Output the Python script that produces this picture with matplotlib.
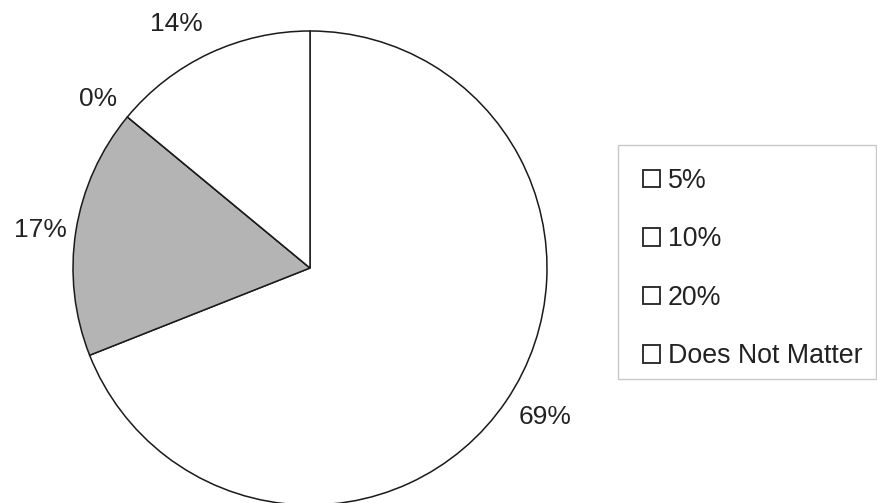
import matplotlib
matplotlib.use("Agg")
import matplotlib.pyplot as plt
from matplotlib.patches import Rectangle

plt.rcParams['font.family'] = ['Liberation Sans', 'DejaVu Sans']

categories = ["5%", "10%", "20%", "Does Not Matter"]
values = [69, 17, 0, 14]
pct_labels = ["69%", "17%", "0%", "14%"]
slice_colors = ["#ffffff", "#b4b4b4", "#ffffff", "#ffffff"]

W, H = 877, 503
fig = plt.figure(figsize=(W / 100, H / 100), dpi=100)
ax = fig.add_axes([0, 0, 1, 1])

wedges, texts = ax.pie(values, labels=pct_labels, colors=slice_colors,
                       startangle=90, counterclock=False,
                       center=(310, H - 268), radius=237,
                       labeldistance=1.16, frame=True,
                       wedgeprops=dict(edgecolor="#1a1a1a", linewidth=1.1),
                       textprops=dict(fontsize=19, color="#222222"))
# small label nudges (pixels, y up) to match the original placement
nudges = [(8, 6), (2, -5), (0, -6), (-17, -5)]
for t, (dx, dy) in zip(texts, nudges):
    t.set_ha('center')
    t.set_va('center')
    x, y = t.get_position()
    t.set_position((x + dx, y + dy))
ax.set_xlim(0, W)
ax.set_ylim(0, H)
ax.set_aspect('equal')
ax.axis('off')

# legend frame
fig.patches.append(Rectangle((618 / W, 1 - 379 / H), (876 - 618) / W, (379 - 145) / H,
                             transform=fig.transFigure, facecolor="white",
                             edgecolor="#c8c8c8", linewidth=1.0, zorder=0))

handles = [Rectangle((0, 0), 1, 1, facecolor="white", edgecolor="#222222", linewidth=1.3)
           for _ in categories]
leg = fig.legend(handles, categories, loc='upper left',
                 bbox_to_anchor=(643 / W, 1 - 168 / H),
                 fontsize=19.3, frameon=False,
                 handlelength=0.62, handleheight=0.62, handletextpad=0.3,
                 labelspacing=1.21, borderpad=0, borderaxespad=0)
for t in leg.get_texts():
    t.set_color("#222222")

fig.savefig("out.png", dpi=100)
